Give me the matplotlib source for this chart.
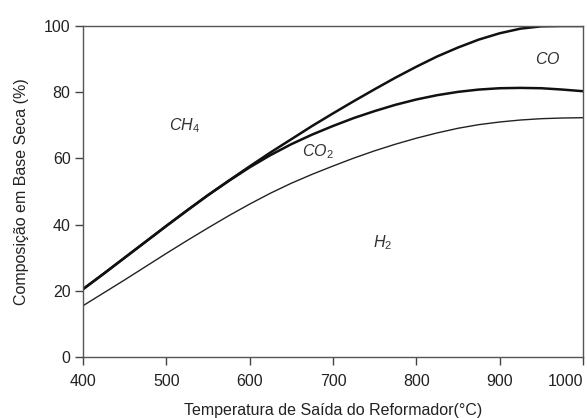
import matplotlib
matplotlib.use("Agg")
import matplotlib.pyplot as plt

plt.rcParams['font.family'] = ['Liberation Sans', 'DejaVu Sans']
plt.rcParams['mathtext.fontset'] = 'custom'
plt.rcParams['mathtext.it'] = 'Liberation Sans:italic'
plt.rcParams['mathtext.rm'] = 'Liberation Sans'

temps = [400, 425, 450, 475, 500, 525, 550, 575, 600, 625, 650, 675, 700,
         725, 750, 775, 800, 825, 850, 875, 900, 925, 950, 975, 1000]
ch4_boundary = [20.5, 25.2, 30.0, 34.8, 39.6, 44.3, 48.9, 53.3, 57.6, 61.8, 65.8, 69.8, 73.6,
                77.3, 80.9, 84.4, 87.7, 90.8, 93.5, 95.9, 97.8, 99.2, 99.9, 100.0, 100.0]
co_boundary = [20.5, 25.2, 30.0, 34.8, 39.6, 44.3, 48.9, 53.2, 57.3, 61.0, 64.3, 67.2, 69.8,
               72.2, 74.3, 76.2, 77.8, 79.1, 80.1, 80.8, 81.2, 81.3, 81.2, 80.8, 80.3]
co2_boundary = [15.5, 19.4, 23.3, 27.3, 31.3, 35.2, 39.0, 42.7, 46.2, 49.5, 52.5, 55.2, 57.7,
                60.1, 62.3, 64.3, 66.1, 67.7, 69.1, 70.2, 71.0, 71.6, 72.0, 72.2, 72.3]

region_labels = [r'$\mathit{CH_4}$', r'$\mathit{CO_2}$', r'$\mathit{H_2}$', r'$\mathit{CO}$']
region_x = [522, 682, 760, 958]
region_y = [70, 62, 34.5, 90]

x_ticks = [400, 500, 600, 700, 800, 900, 1000]
y_ticks = [0, 20, 40, 60, 80, 100]

fig = plt.figure(figsize=(5.87, 4.18), dpi=100)
ax = fig.add_axes([0.1414, 0.1459, 0.8518, 0.7919])

line_color = '#111111'
ax.plot(temps, ch4_boundary, color=line_color, lw=1.8, solid_capstyle='butt')
ax.plot(temps, co_boundary, color=line_color, lw=1.8, solid_capstyle='butt')
ax.plot(temps, co2_boundary, color='#222222', lw=1.0)

for lab, xx, yy in zip(region_labels, region_x, region_y):
    ax.text(xx, yy, lab, fontsize=11.5, color='#333333', ha='center', va='center')

ax.set_xlim(400, 1000)
ax.set_ylim(0, 100)
ax.set_xticks(x_ticks, [str(t) for t in x_ticks])
ax.set_yticks(y_ticks)
ax.tick_params(axis='both', direction='out', length=6, width=1.0, color='#444444',
               labelsize=11.5, labelcolor='#222222', pad=3)
ax.tick_params(axis='x', pad=6)
for i, lbl in enumerate(ax.get_xticklabels()):
    if i == len(x_ticks) - 1:
        lbl.set_horizontalalignment('right')

for s in ax.spines.values():
    s.set_color('#555555')
    s.set_linewidth(1.0)

ax.set_xlabel('Temperatura de Saída do Reformador(°C)', fontsize=11.5, color='#222222', labelpad=10)
ax.set_ylabel('Composição em Base Seca (%)', fontsize=11.5, color='#222222', labelpad=11)

fig.savefig('out.png', dpi=100)
